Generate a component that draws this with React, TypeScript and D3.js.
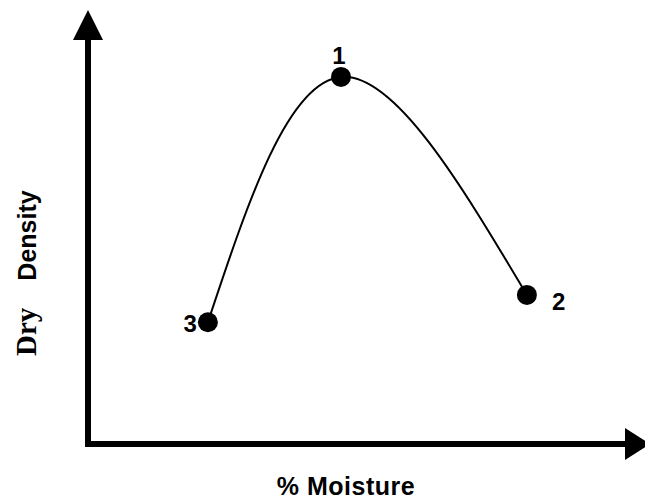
import React from "react";
import * as d3 from "d3";

const pointLabels = ["3", "1", "2"];
const moisture = [2.18, 4.6, 7.98];
const dryDensity = [2.9, 8.74, 3.55];

const W = 645;
const H = 499;

export default function App() {
  const x = d3.scaleLinear().domain([0, 10]).range([88, 638]);
  const y = d3.scaleLinear().domain([0, 10]).range([444, 24]);
  const pts = moisture.map((m, i) => ({ m, d: dryDensity[i], label: pointLabels[i] }));
  const line = d3
    .line<{ m: number; d: number }>()
    .x((p) => x(p.m))
    .y((p) => y(p.d))
    .curve(d3.curveNatural);

  const x0 = x(0);
  const y0 = y(0);
  const labelOffsets: Record<string, [number, number, string]> = {
    "3": [-11, 10, "end"],
    "1": [-2, -13, "middle"],
    "2": [25, 15, "start"],
  };

  return (
    <svg
      width={W}
      height={H}
      style={{ position: "fixed", left: 0, top: 0, background: "#fff" }}
    >
      <rect width={W} height={H} fill="#fff" />
      {/* axes */}
      <line x1={x0} y1={y0 + 3} x2={x0} y2={38} stroke="#000" strokeWidth={6} />
      <path d={`M${x0 - 15},40 L${x0 + 15},40 L${x0},10 Z`} fill="#000" />
      <line x1={x0 - 3} y1={y0} x2={627} y2={y0} stroke="#000" strokeWidth={6} />
      <path d={`M625,${y0 - 16} L625,${y0 + 16} L650,${y0} Z`} fill="#000" />

      {/* curve */}
      <path d={line(pts) || ""} fill="none" stroke="#000" strokeWidth={2} />

      {pts.map((p) => {
        const [dx, dy, anchor] = labelOffsets[p.label];
        return (
          <g key={p.label}>
            <circle cx={x(p.m)} cy={y(p.d)} r={10} fill="#000" />
            <text
              x={x(p.m) + dx}
              y={y(p.d) + dy}
              textAnchor={anchor}
              fontFamily="Liberation Sans, Arial, sans-serif"
              fontWeight="bold"
              fontSize={24}
              fill="#000"
            >
              {p.label}
            </text>
          </g>
        );
      })}

      {/* x label */}
      <text
        x={346}
        y={495}
        textAnchor="middle"
        fontFamily="Liberation Sans, Arial, sans-serif"
        fontWeight="bold"
        fontSize={25}
        letterSpacing={0.5}
        fill="#000"
      >
        % Moisture
      </text>

      {/* y label */}
      <text
        transform="translate(36,356) rotate(-90)"
        fontFamily="Liberation Sans, Arial, sans-serif"
        fontWeight="bold"
        fontSize={25}
        fill="#000"
      >
        <tspan fontFamily="Liberation Serif, Times New Roman, serif" fontSize={29}>
          Dry
        </tspan>
        <tspan dx={27}>Density</tspan>
      </text>
    </svg>
  );
}
